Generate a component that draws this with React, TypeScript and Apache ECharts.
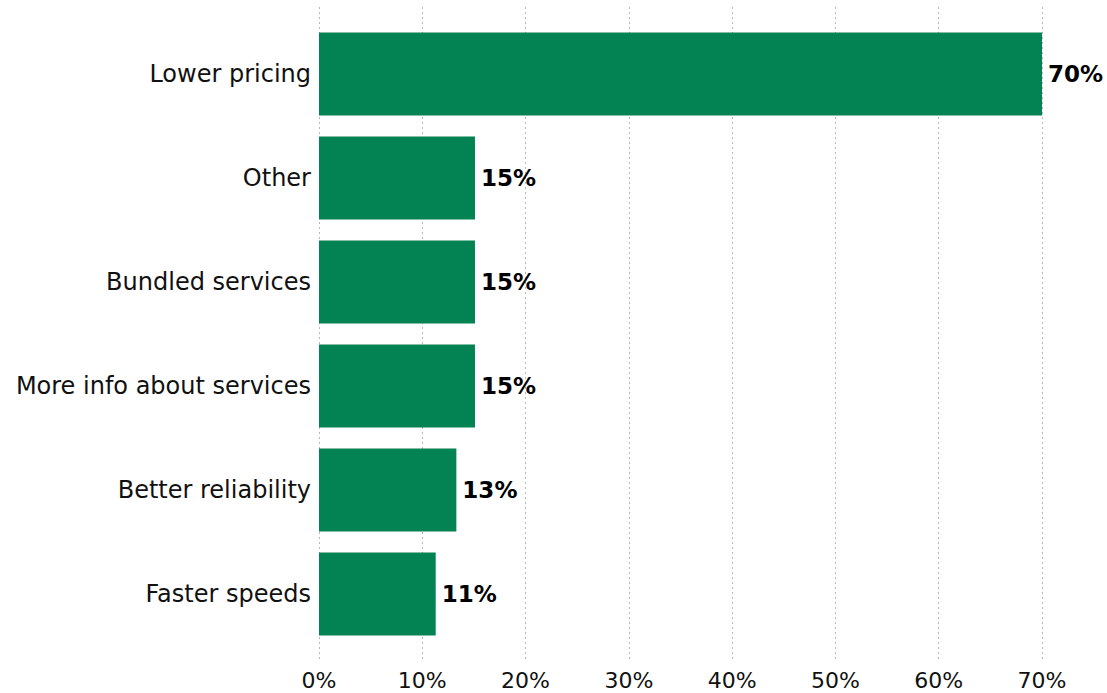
import React, { useEffect, useRef } from "react";
import * as echarts from "echarts";

const categories = ["Faster speeds", "Better reliability", "More info about services", "Bundled services", "Other", "Lower pricing"];
const values = [11.3, 13.3, 15.1, 15.1, 15.1, 70];
const labels = ["11%", "13%", "15%", "15%", "15%", "70%"];
const tickMax = 70;
const tickStep = 10;

export default function App() {
  const ref = useRef<HTMLDivElement>(null);
  useEffect(() => {
    const chart = echarts.init(ref.current!, null, { renderer: "svg" });
    const font = "'DejaVu Sans', 'Open Sans', sans-serif";
    chart.setOption({
      animation: false,
      grid: [
        { left: 319, right: 65, top: 22, bottom: 47 },
        { left: 319, right: 65, top: 7, bottom: 32 },
      ],
      xAxis: [
        {
          gridIndex: 0, type: "value", min: 0, max: tickMax, interval: tickStep,
          axisLabel: { show: false }, axisLine: { show: false }, axisTick: { show: false },
          splitLine: { show: false },
        },
        {
          gridIndex: 1, type: "value", min: 0, max: tickMax, interval: tickStep,
          axisLabel: { formatter: "{value}%", color: "#111", fontSize: 22, lineHeight: 22, fontFamily: font, margin: 8 },
          axisLine: { show: false }, axisTick: { show: false },
          splitLine: { show: true, lineStyle: { color: "#b8b8b8", type: [2, 3], width: 1 } },
        },
      ],
      yAxis: [
        {
          gridIndex: 0, type: "category", data: categories,
          axisLine: { show: false }, axisTick: { show: false },
          axisLabel: { color: "#111", fontSize: 24, fontFamily: font, margin: 8 },
        },
        { gridIndex: 1, type: "category", data: categories, show: false },
      ],
      series: [
        {
          type: "bar", xAxisIndex: 0, yAxisIndex: 0, data: values,
          barCategoryGap: "20%",
          itemStyle: { color: "#038253" },
          label: {
            show: true, position: "right", distance: 6,
            formatter: (p: any) => labels[p.dataIndex],
            color: "#000", fontSize: 23, fontWeight: "bold", fontFamily: font,
          },
        },
      ],
    });
    return () => chart.dispose();
  }, []);
  return <div ref={ref} style={{ width: 1107, height: 693, position: "absolute", left: 0, top: 0, background: "#fff" }} />;
}
